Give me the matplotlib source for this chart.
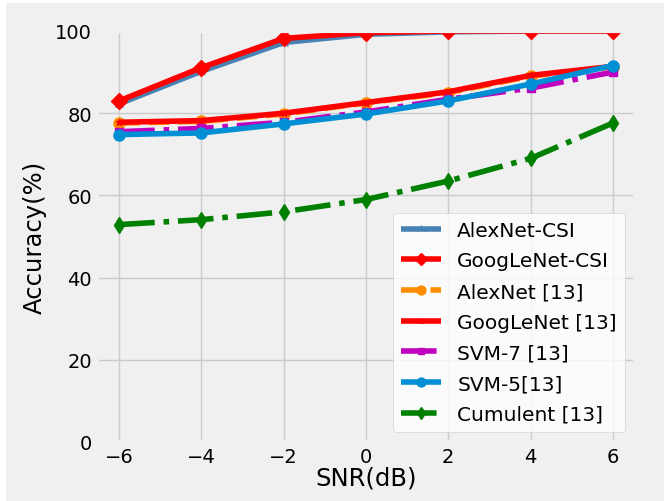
import matplotlib
matplotlib.use("Agg")
import matplotlib.pyplot as plt
from matplotlib.patches import Rectangle

plt.style.use("fivethirtyeight")

snr = [-6, -4, -2, 0, 2, 4, 6]
alexnet_csi = [82.3, 90.2, 97.2, 99.2, 99.8, 100, 100]
googlenet_csi = [83.0, 91.1, 98.2, 99.6, 100, 100, 100]
alexnet_13 = [77.6, 78.0, 79.8, 82.5, 85.0, 89.0, 91.3]
googlenet_13 = [77.8, 78.2, 80.0, 82.6, 85.2, 89.2, 91.4]
svm7_13 = [75.5, 76.3, 77.8, 80.3, 83.4, 86.1, 90.0]
svm5_13 = [74.8, 75.2, 77.4, 79.8, 83.0, 87.1, 91.6]
cumulent_13 = [52.9, 54.1, 56.0, 59.0, 63.5, 69.0, 77.6]

fig = plt.figure(figsize=(6.64, 5.02), dpi=100)
fig.patch.set_facecolor("white")
fig.patches.append(Rectangle((6 / 664, 0), 1, 498 / 502, transform=fig.transFigure,
                             facecolor="#f0f0f0", edgecolor="none", zorder=-10))
ax = fig.add_axes([97 / 664, 59 / 502, 538 / 664, 411 / 502])

ax.plot(snr, alexnet_csi, color="steelblue", marker="2", markersize=8, label="AlexNet-CSI")
ax.plot(snr, googlenet_csi, color="red", marker="D", markersize=8, label="GoogLeNet-CSI")
ax.plot(snr, alexnet_13, color="darkorange", linestyle="--", marker="o", markersize=8, label="AlexNet [13]")
ax.plot(snr, googlenet_13, color="red", marker="*", markersize=5, label="GoogLeNet [13]")
ax.plot(snr, svm7_13, color="m", linestyle="-.", marker="s", markersize=6, label="SVM-7 [13]")
ax.plot(snr, svm5_13, color="#008fd5", marker="o", markersize=8, label="SVM-5[13]")
ax.plot(snr, cumulent_13, color="g", linestyle="-.", marker="d", markersize=8, label="Cumulent [13]")

ax.set_xlim(-6.54, 6.54)
ax.set_ylim(0, 100)
ax.set_xticks(snr)
ax.set_yticks([0, 20, 40, 60, 80, 100])
ax.tick_params(labelsize=14)
ax.set_xlabel("SNR(dB)", fontsize=17.5, labelpad=0)
ax.set_ylabel("Accuracy(%)", fontsize=17.5, labelpad=6)
ax.legend(loc="lower right", fontsize=14.5, facecolor="white", framealpha=0.8,
          borderaxespad=0.5, labelspacing=0.58, markerscale=0.8)

fig.savefig("out.png", dpi=100)
